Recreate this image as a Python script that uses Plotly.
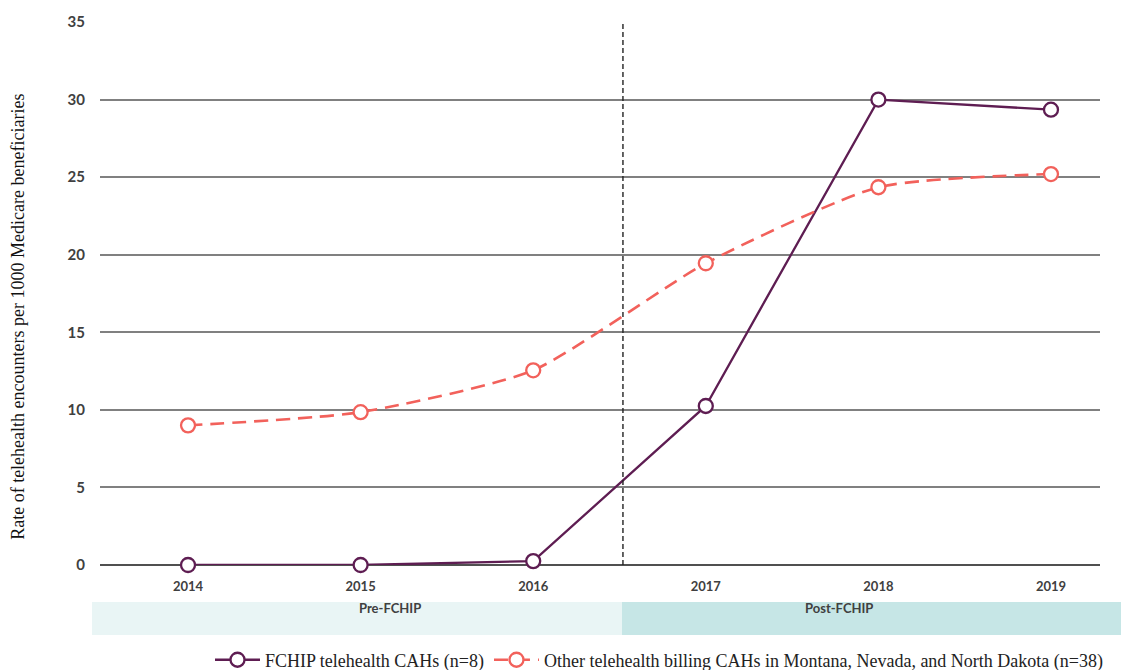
import plotly.graph_objects as go

years = ["2014", "2015", "2016", "2017", "2018", "2019"]
fchip = [0.0, 0.0, 0.25, 10.25, 30.0, 29.35]
other = [9.0, 9.85, 12.55, 19.45, 24.35, 25.2]
y_ticks = [0, 5, 10, 15, 20, 25, 30, 35]
fchip_name = "FCHIP telehealth CAHs (n=8)"
other_name = "Other telehealth billing CAHs in Montana, Nevada, and North Dakota (n=38)"
period_labels = ["Pre-FCHIP", "Post-FCHIP"]
y_title = "Rate of telehealth encounters per 1000 Medicare beneficiaries"

purple = "#5e1d52"
coral = "#f2615b"

fig = go.Figure()
fig.add_trace(go.Scatter(
    x=list(range(len(years))), y=fchip, name=fchip_name, mode="lines+markers",
    line=dict(color=purple, width=2.3),
    marker=dict(symbol="circle", size=14, color="white", line=dict(color=purple, width=2.3)),
    cliponaxis=False))
fig.add_trace(go.Scatter(
    x=list(range(len(years))), y=other, name=other_name, mode="lines+markers",
    line=dict(color=coral, width=2.6, dash="14px,8px", shape="spline", smoothing=0.6),
    marker=dict(symbol="circle", size=14, color="white", line=dict(color=coral, width=2.3)),
    cliponaxis=False))

# period bands
fig.add_shape(type="rect", xref="paper", yref="paper", x0=-0.008, x1=0.522, y0=-0.129, y1=-0.068,
              fillcolor="#e9f5f5", line=dict(width=0), layer="below")
fig.add_shape(type="rect", xref="paper", yref="paper", x0=0.522, x1=1.027, y0=-0.129, y1=-0.068,
              fillcolor="#c6e6e6", line=dict(width=0), layer="below")
fig.add_annotation(xref="paper", yref="paper", x=(-0.008 + 0.522) / 2, y=-0.0985, text=period_labels[0],
                   showarrow=False, font=dict(family="Lato", size=13, color="#404040", weight="bold"))
fig.add_annotation(xref="paper", yref="paper", x=(0.522 + 1.027) / 2, y=-0.0985, text=period_labels[1],
                   showarrow=False, font=dict(family="Lato", size=13, color="#404040", weight="bold"))

# y-axis title placed as in the reference (slightly below centre)
fig.add_annotation(xref="paper", yref="paper", x=-0.082, y=0.457, text=y_title, textangle=-90,
                   showarrow=False, xanchor="center", yanchor="middle",
                   font=dict(family="Liberation Serif", size=18, color="#111111"))

# vertical dashed divider
fig.add_shape(type="line", xref="x", yref="y", x0=2.52, x1=2.52, y0=0, y1=35,
              line=dict(color="#222222", width=1.4, dash="5px,3px"))

# page body has an 8px margin: shrink figure and margins so the plot lands where the reference has it
fig.update_layout(
    width=1121, height=662,
    margin=dict(l=92, r=29, t=14, b=105, autoexpand=False),
    plot_bgcolor="white", paper_bgcolor="white",
    showlegend=True,
    legend=dict(orientation="h", x=0.11, y=-0.175, xanchor="left", yanchor="middle",
                font=dict(family="Liberation Serif", size=18, color="#222222"),
                itemwidth=45, tracegroupgap=0),
    xaxis=dict(tickmode="array", tickvals=list(range(len(years))), ticktext=years,
               range=[-0.51, 5.284], showgrid=False, zeroline=False, showline=False,
               ticks="", ticklabelstandoff=12,
               tickfont=dict(family="Lato", size=13, color="#404040", weight="bold")),
    yaxis=dict(range=[0, 35], tickvals=y_ticks, showgrid=True, gridcolor="#808080", gridwidth=1.5,
               zeroline=True, zerolinecolor="#505050", zerolinewidth=1.5, showline=False,
               ticks="", ticklabelstandoff=14,
               tickfont=dict(family="Lato", size=15, color="#404040", weight="bold")),
)

fig.write_html("out.html")
